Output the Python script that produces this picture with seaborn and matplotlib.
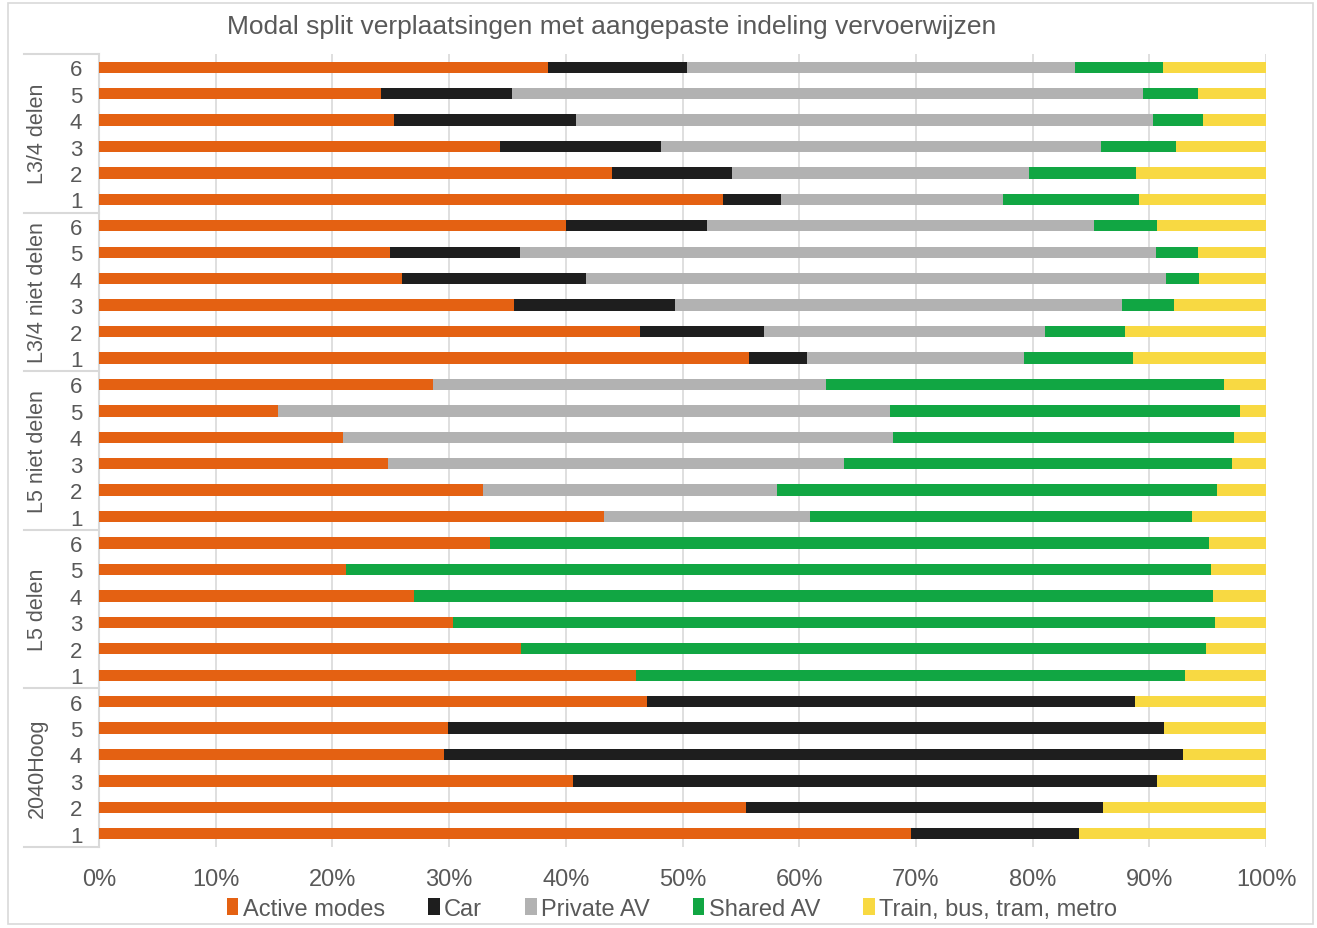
import matplotlib
matplotlib.use("Agg")
import matplotlib.pyplot as plt
from matplotlib.patches import Patch, Rectangle
import pandas as pd
import seaborn as sns

# scenario groups, top to bottom, each with levels 6..1
groups = ["L3/4 delen", "L3/4 niet delen", "L5 niet delen", "L5 delen", "2040Hoog"]
levels = ["6", "5", "4", "3", "2", "1"]

modes = ["Active modes", "Car", "Private AV", "Shared AV", "Train, bus, tram, metro"]
colors = ["#E46112", "#1E1E1E", "#B2B2B2", "#11A643", "#F8D942"]

# shares in %, rows in the order groups x levels (top to bottom)
active = [38.5, 24.2, 25.3, 34.4, 44.0, 53.5,
          40.0, 24.9, 26.0, 35.6, 46.4, 55.7,
          28.6, 15.3, 20.9, 24.8, 32.9, 43.3,
          33.5, 21.2, 27.0, 30.3, 36.2, 46.0,
          47.0, 29.9, 29.6, 40.6, 55.4, 69.6]
car = [11.9, 11.2, 15.6, 13.8, 10.2, 4.9,
       12.1, 11.2, 15.7, 13.8, 10.6, 5.0,
       0, 0, 0, 0, 0, 0,
       0, 0, 0, 0, 0, 0,
       41.8, 61.4, 63.3, 50.1, 30.6, 14.4]
private_av = [33.2, 54.1, 49.4, 37.7, 25.5, 19.1,
              33.2, 54.5, 49.7, 38.3, 24.1, 18.6,
              33.7, 52.5, 47.1, 39.0, 25.2, 17.6,
              0, 0, 0, 0, 0, 0,
              0, 0, 0, 0, 0, 0]
shared_av = [7.6, 4.7, 4.3, 6.4, 9.2, 11.6,
             5.4, 3.6, 2.9, 4.4, 6.8, 9.3,
             34.1, 30.0, 29.3, 33.3, 37.7, 32.8,
             61.6, 74.1, 68.5, 65.3, 58.7, 47.1,
             0, 0, 0, 0, 0, 0]
ov = [8.8, 5.8, 5.4, 7.7, 11.1, 10.9,
      9.3, 5.8, 5.7, 7.9, 12.1, 11.4,
      3.6, 2.2, 2.7, 2.9, 4.2, 6.3,
      4.9, 4.7, 4.5, 4.4, 5.1, 6.9,
      11.2, 8.7, 7.1, 9.3, 14.0, 16.0]

rows = [g + "|" + l for g in groups for l in levels]
df = pd.DataFrame({"row": rows, "Active modes": active, "Car": car,
                   "Private AV": private_av, "Shared AV": shared_av,
                   "Train, bus, tram, metro": ov})
cum = df[modes].cumsum(axis=1)
cum["row"] = df["row"]

txt = "#595959"
grid = "#D9D9D9"
plt.rcParams["font.family"] = ["Liberation Sans", "DejaVu Sans"]

fig = plt.figure(figsize=(13.17, 9.29), dpi=100)
ax = fig.add_axes([99 / 1317, 1 - 848 / 929, 1167 / 1317, 793 / 929])

# stacked bars: draw cumulative totals from right to left
for m, c in reversed(list(zip(modes, colors))):
    sns.barplot(data=cum, x=m, y="row", order=rows, color=c, width=0.43,
                linewidth=0, saturation=1, orient="h", ax=ax, zorder=3)

ax.set_xlim(0, 100)
ax.set_ylim(len(rows) - 0.5, -0.5)
ax.set_xticks(range(0, 101, 10))
ax.set_xticklabels([f"{v}%" for v in range(0, 101, 10)])
ax.set_yticks(range(len(rows)))
ax.set_yticklabels([r.split("|")[1] for r in rows])
ax.set_xlabel("")
ax.set_ylabel("")
ax.tick_params(axis="both", length=0, labelcolor=txt)
ax.tick_params(axis="x", pad=15, labelsize=17)
ax.tick_params(axis="y", pad=12, labelsize=16)
ax.grid(axis="x", color=grid, linewidth=1.2, zorder=0)
ax.set_axisbelow(True)
for s in ["top", "right", "bottom"]:
    ax.spines[s].set_visible(False)
ax.spines["left"].set_color(grid)
ax.spines["left"].set_linewidth(1.5)

# group separators and labels
for i, g in enumerate(groups):
    ax.plot([-0.064, 0], [i * 6 - 0.5, i * 6 - 0.5], color=grid, lw=1.5,
            transform=ax.get_yaxis_transform(), clip_on=False)
    ax.text(-0.053, i * 6 + 2.5, g, rotation=90, ha="center", va="center",
            fontsize=15.5, color=txt, transform=ax.get_yaxis_transform())
ax.plot([-0.064, 0], [len(rows) - 0.5] * 2, color=grid, lw=1.5,
        transform=ax.get_yaxis_transform(), clip_on=False)

fig.text(612 / 1317, 1 - 27 / 929,
         "Modal split verplaatsingen met aangepaste indeling vervoerwijzen",
         ha="center", va="center", fontsize=19, color=txt)

handles = [Patch(facecolor=c, label=m) for m, c in zip(modes, colors)]
fig.legend(handles=handles, loc="center", bbox_to_anchor=(672 / 1317, 1 - 910 / 929),
           ncol=5, frameon=False, fontsize=17, labelcolor=txt,
           handlelength=0.5, handleheight=0.7, handletextpad=0.2, columnspacing=1.8)

fig.patches.append(Rectangle((8 / 1317, 4 / 929), 1305 / 1317, 921 / 929,
                             transform=fig.transFigure, fill=False,
                             edgecolor=grid, lw=1.2))

fig.savefig("out.png", dpi=100)
